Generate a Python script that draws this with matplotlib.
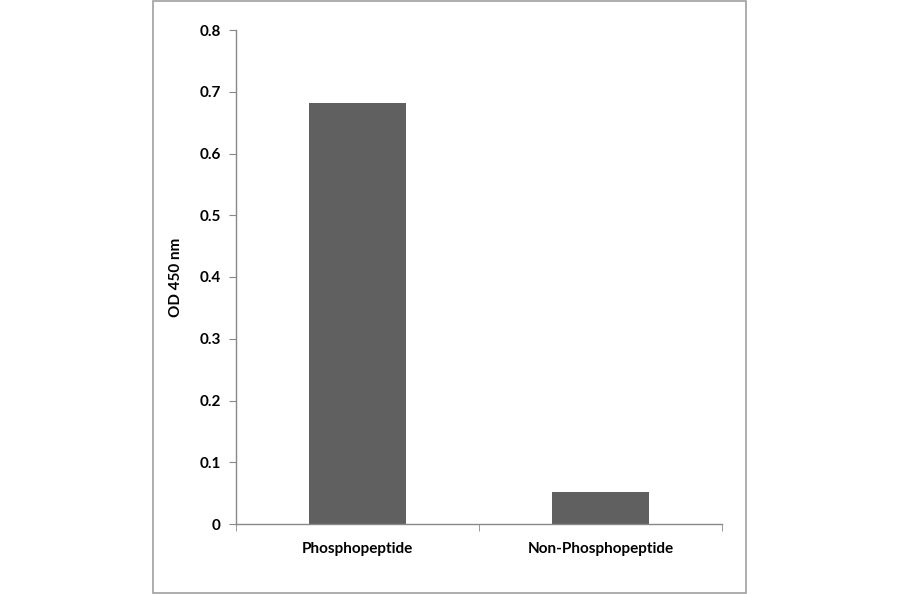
import matplotlib
matplotlib.use("Agg")
from matplotlib import pyplot as plt
from matplotlib.patches import Rectangle

categories = ["Phosphopeptide", "Non-Phosphopeptide"]
od_values = [0.682, 0.052]
y_ticks = [0, 0.1, 0.2, 0.3, 0.4, 0.5, 0.6, 0.7, 0.8]
y_tick_labels = ["0", "0.1", "0.2", "0.3", "0.4", "0.5", "0.6", "0.7", "0.8"]

plt.rcParams['font.family'] = ['Lato', 'DejaVu Sans']

W, H = 900, 594
fig = plt.figure(figsize=(W / 100, H / 100), dpi=100)

# outer frame around the chart
fig.patches.append(Rectangle((153 / W, 1 / H), (746 - 153) / W, (593 - 1) / H,
                             transform=fig.transFigure, fill=False,
                             edgecolor="#a0a0a0", linewidth=1.2))

ax = fig.add_axes([236 / W, (H - 524) / H, (722 - 236) / W, (524 - 30) / H])

ax.bar(range(len(categories)), od_values, width=0.4, color="#606060")
ax.set_xlim(-0.5, len(categories) - 0.5)
ax.set_ylim(0, 0.8)

ax.set_yticks(y_ticks)
ax.set_yticklabels(y_tick_labels, fontsize=11, fontweight="bold")
ax.set_xticks(range(len(categories)))
ax.set_xticklabels(categories, fontsize=11, fontweight="bold")
# category separators instead of centred ticks
ax.set_xticks([-0.5, 0.5, 1.5], minor=True)
ax.tick_params(axis="x", which="major", length=0, pad=13)
ax.tick_params(axis="x", which="minor", length=5, color="#888888", direction="out")
ax.tick_params(axis="y", length=5, color="#888888", pad=6)

for s in ["top", "right"]:
    ax.spines[s].set_visible(False)
for s in ["left", "bottom"]:
    ax.spines[s].set_color("#888888")
    ax.spines[s].set_linewidth(1)

ax.set_ylabel("OD 450 nm", fontsize=11, fontweight="bold", labelpad=12)

fig.savefig("out.png", dpi=100)
